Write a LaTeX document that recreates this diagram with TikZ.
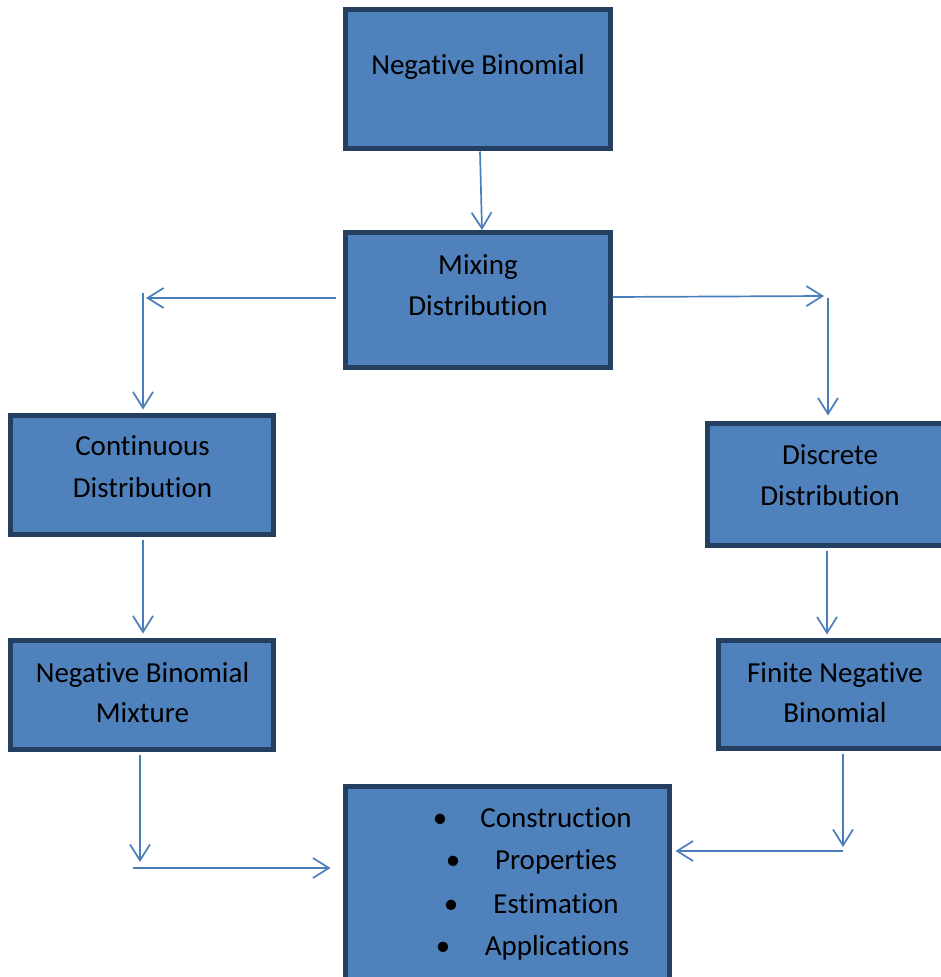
\documentclass[tikz,border=0pt]{standalone}
\usepackage{fontspec}
\setmainfont[RawFeature={-liga,-clig,-dlig,-calt,-rlig}]{Carlito}
\usetikzlibrary{arrows.meta,calc}
\definecolor{boxfill}{HTML}{4F81BD}
\definecolor{boxline}{HTML}{243F60}
\definecolor{arrowc}{HTML}{4A7EBB}
\newcommand\nlg{\kern0pt }
\begin{document}
\begin{tikzpicture}[x=1pt,y=-1pt,
  box/.style={draw=boxline,fill=boxfill,line width=5pt,inner sep=0pt,rectangle},
  txt/.style={anchor=base,inner sep=0pt,font=\fontsize{29}{35}\selectfont,text=black},
  conn/.style={draw=arrowc,line width=1.7pt,-{Straight Barb[length=16pt,width=20pt,line width=1.7pt]}}]
\useasboundingbox (0,0) rectangle (940,977);
% boxes
\node[box,minimum width=265pt,minimum height=139pt] (nb) at (478,79) {};
\node[box,minimum width=265pt,minimum height=135pt] (mix) at (478,300) {};
\node[box,minimum width=263pt,minimum height=119pt] (cont) at (142,475) {};
\node[box,minimum width=245pt,minimum height=122pt] (disc) at (830,484.5) {};
\node[box,minimum width=263pt,minimum height=109pt] (nbm) at (142,695) {};
\node[box,minimum width=233pt,minimum height=108pt] (fnb) at (835,694.5) {};
\node[box,minimum width=324pt,minimum height=208.5pt] (bot) at (507.5,890.75) {};
% texts
\node[txt] (nbt) at (478,74) {Negat\nlg ive Binomial};
\node[txt] (mixt1) at (478,274) {Mixing};
\node[txt] (mixt2) at (478,315) {Distribut\nlg ion};
\node[txt] (contt1) at (142.5,455) {Cont\nlg inuous};
\node[txt] (contt2) at (142.5,497) {Distribut\nlg ion};
\node[txt] (disct1) at (830,464) {Discrete};
\node[txt] (disct2) at (830,505) {Distribut\nlg ion};
\node[txt] (nbmt1) at (142.5,682) {Negat\nlg ive Binomial};
\node[txt] (nbmt2) at (142.5,722) {Mixture};
\node[txt] (fnbt1) at (835,682) {Finite Negat\nlg ive};
\node[txt] (fnbt2) at (835,722) {Binomial};
\node[txt] (b1) at (440,827) {•};
\node[txt] (b2) at (453,869) {•};
\node[txt] (b3) at (451,913) {•};
\node[txt] (b4) at (443,955) {•};
\node[txt] (l1) at (556,827) {Construct\nlg ion};
\node[txt] (l2) at (556,869) {Propert\nlg ies};
\node[txt] (l3) at (556,913) {Est\nlg imat\nlg ion};
\node[txt] (l4) at (557,955) {Applicat\nlg ions};
% coordinates
\coordinate (lc) at (146,298);
\coordinate (lv) at (143,293);
\coordinate (rc) at (824,296);
\coordinate (rv) at (828,298);
\coordinate (bl) at (140,862);
\coordinate (bh) at (133,868);
\coordinate (br) at (843,847);
\coordinate (bh2) at (843,851);
% connectors
\draw[conn] ([xshift=2pt,yshift=-0.5pt]nb.south) -- ([xshift=4pt]mix.north);
\draw[conn] ([xshift=-7.5pt,yshift=2pt]mix.west) -- (lc);
\draw[conn] (lv) -- ([xshift=1pt,yshift=3.5pt]cont.north);
\draw[conn] ([xshift=-0.5pt,yshift=3pt]mix.east) -- (rc);
\draw[conn] (rv) -- ([xshift=-2pt,yshift=5.5pt]disc.north);
\draw[conn] ([xshift=1pt,yshift=-2.5pt]cont.south) -- ([xshift=1pt,yshift=4.5pt]nbm.north);
\draw[conn] ([xshift=-3pt,yshift=-2.5pt]disc.south) -- ([xshift=-8pt,yshift=3.5pt]fnb.north);
\draw[conn] ([xshift=-2pt,yshift=-2.5pt]nbm.south) -- (bl);
\draw[conn] (bh) -- ($(bh -| bot.west)+(-12.5,0)$);
\draw[conn] ([xshift=8pt,yshift=-2.5pt]fnb.south) -- (br);
\draw[conn] (bh2) -- ($(bh2 -| bot.east)+(3.5,0)$);
\end{tikzpicture}
\end{document}
